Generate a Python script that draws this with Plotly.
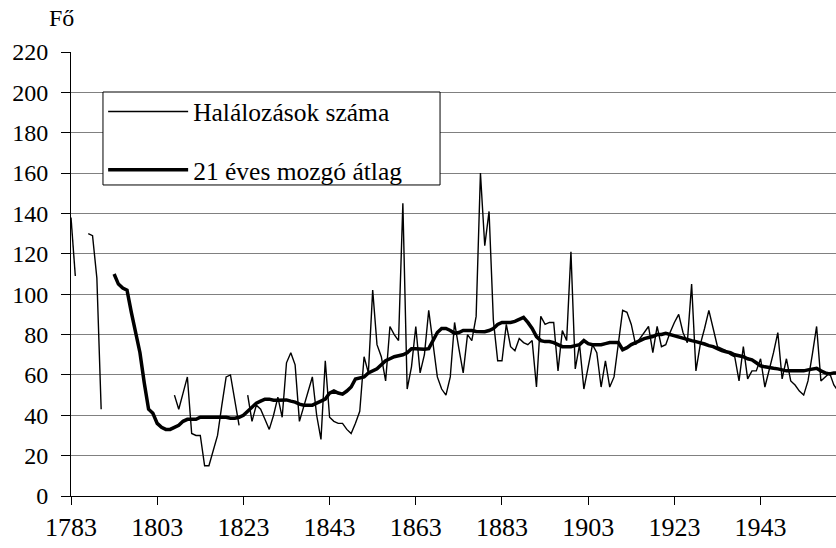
import plotly.graph_objects as go

# yearly deaths, 1783-1961 (None = no data)
death_years = list(range(1783, 1962))
deaths = [
    138, 109, None, None, 130, 129, 108,                      # 1783-1789
    43, None, None, None, None, None, None, None, None, None,  # 1790-1799
    None, None, None, None, None, None, None, 50, 43, 51,      # 1800-1809
    59, 31, 30, 30, 15, 15, 22, 30, 45, 59,                    # 1810-1819
    60, 47, 35, None, 50, 37, 45, 43, 38, 33,                  # 1820-1829
    40, 49, 39, 66, 71, 65, 37, 44, 52, 59,                    # 1830-1839
    40, 28, 67, 39, 37, 36, 36, 33, 31, 36,                    # 1840-1849
    42, 69, 61, 102, 75, 69, 57, 84, 80, 77,                   # 1850-1859
    145, 53, 64, 84, 61, 70, 92, 75, 59, 53,                   # 1860-1869
    50, 59, 86, 73, 61, 80, 77, 89, 160, 124,                  # 1870-1879
    141, 87, 67, 67, 85, 74, 72, 78, 76, 75,                   # 1880-1889
    77, 54, 89, 85, 86, 86, 62, 82, 77, 121,                   # 1890-1899
    63, 75, 53, 64, 75, 71, 54, 67, 54, 59,                    # 1900-1909
    76, 92, 91, 85, 75, 78, 81, 84, 71, 84,                    # 1910-1919
    74, 75, 81, 86, 90, 81, 76, 105, 62, 75,                   # 1920-1929
    83, 92, 83, 74, 73, 72, 70, 69, 57, 74,                    # 1930-1939
    58, 62, 62, 68, 54, 62, 71, 81, 58, 68,                    # 1940-1949
    57, 55, 52, 50, 57, 70, 84, 57, 59, 61,                    # 1950-1959
    55, 52,                                                    # 1960-1961
]

# 21-year moving average, 1793-1961
ma_years = list(range(1793, 1962))
moving_avg = [
    110, 105, 103, 102, 91, 81, 71,                            # 1793-1799
    56, 43, 41, 36, 34, 33, 33, 34, 35, 37,                    # 1800-1809
    38, 38, 38, 39, 39, 39, 39, 39, 39, 39,                    # 1810-1819
    38.5, 38.5, 39, 40, 42, 44, 46, 47, 48, 48,                # 1820-1829
    47.5, 47.5, 47.6, 47.6, 47, 46.5, 45.5, 45, 45, 45,        # 1830-1839
    46, 47, 48, 51, 52, 51, 50.5, 52, 54, 58,                  # 1840-1849
    58.5, 59, 61, 62, 63, 65, 67, 68, 69, 69.5,                # 1850-1859
    70, 71, 73, 73, 72.7, 72.7, 73, 77, 81, 83,                # 1860-1869
    83, 82, 80.6, 81, 82, 82, 82, 81.5, 81.4, 81.4,            # 1870-1879
    82, 83, 85, 86, 86, 86, 86.5, 87.5, 88.5, 86,              # 1880-1889
    83, 79, 77, 76.5, 76.5, 76, 75, 74, 74, 74,                # 1890-1899
    74.5, 75, 77, 75.5, 75, 75, 75, 75.5, 76, 76,              # 1900-1909
    76, 72.5, 73.5, 75, 76, 77, 78, 78.5, 79, 80,              # 1910-1919
    80, 80.6, 80, 79, 78.5, 78, 77.5, 77, 76.5, 76,            # 1920-1929
    75.3, 74.5, 74, 73, 72, 71.5, 71, 70, 69.5, 69,            # 1930-1939
    68, 67.5, 66, 64.5, 64, 63.5, 63.3, 63, 62.5, 62,          # 1940-1949
    62, 62, 62, 62, 62.5, 63, 63.3, 62, 61, 60.5,              # 1950-1959
    61, 61,                                                    # 1960-1961
]

x_ticks = list(range(1783, 1960, 20))
y_ticks = list(range(0, 221, 20))

font_name = 'Liberation Serif, Times New Roman, DejaVu Serif, serif'

fig = go.Figure()

fig.add_trace(go.Scatter(
    x=death_years, y=deaths,
    mode='lines',
    name='Halálozások száma',
    legendgroup='a',
    line=dict(color='black', width=1.4),
    connectgaps=False
))

fig.add_trace(go.Scatter(
    x=ma_years, y=moving_avg,
    mode='lines',
    name='21 éves mozgó átlag',
    legendgroup='b',
    line=dict(color='black', width=3.5)
))

fig.update_layout(
    width=836,
    height=548,
    margin=dict(l=71, r=0, t=52, b=52),
    paper_bgcolor='white',
    plot_bgcolor='white',
    font=dict(family=font_name, size=24, color='black'),
    showlegend=True,
    legend=dict(
        x=0.042, y=0.918,
        xanchor='left', yanchor='top',
        bgcolor='rgba(0,0,0,0)',
        borderwidth=0,
        font=dict(family=font_name, size=25.5, color='black'),
        itemwidth=80,
        traceorder='grouped',
        tracegroupgap=22
    ),
    # white legend frame, a bit wider than plotly's own box
    shapes=[dict(
        type='rect', xref='paper', yref='paper',
        x0=0.0418, x1=0.4824, y0=0.7005, y1=0.9099,
        fillcolor='white', line=dict(color='black', width=1),
        layer='above'
    )],
    xaxis=dict(
        range=[1783, 1960.5],
        tickvals=x_ticks,
        ticktext=[str(t) for t in x_ticks],
        showgrid=False,
        zeroline=False,
        showline=True,
        linecolor='black',
        linewidth=1,
        ticks='outside',
        ticklen=8,
        tickcolor='black',
        tickfont=dict(family=font_name, size=26, color='black')
    ),
    yaxis=dict(
        range=[0, 220],
        tickvals=y_ticks,
        showgrid=True,
        gridcolor='#808080',
        gridwidth=1,
        zeroline=False,
        showline=True,
        linecolor='black',
        linewidth=1,
        ticks='outside',
        ticklen=9,
        tickcolor='black',
        ticklabelstandoff=8,
        tickfont=dict(family=font_name, size=24, color='black')
    ),
    annotations=[dict(
        text='Fő',
        xref='paper', yref='paper',
        x=-0.012, y=1.077,
        xanchor='center', yanchor='middle',
        showarrow=False,
        font=dict(family=font_name, size=24, color='black')
    )]
)

# the page body has a default margin; drop it so the figure sits at (0, 0)
fig.write_html(
    "out.html",
    config={'displayModeBar': False},
    post_script="document.body.style.margin='0';"
)
